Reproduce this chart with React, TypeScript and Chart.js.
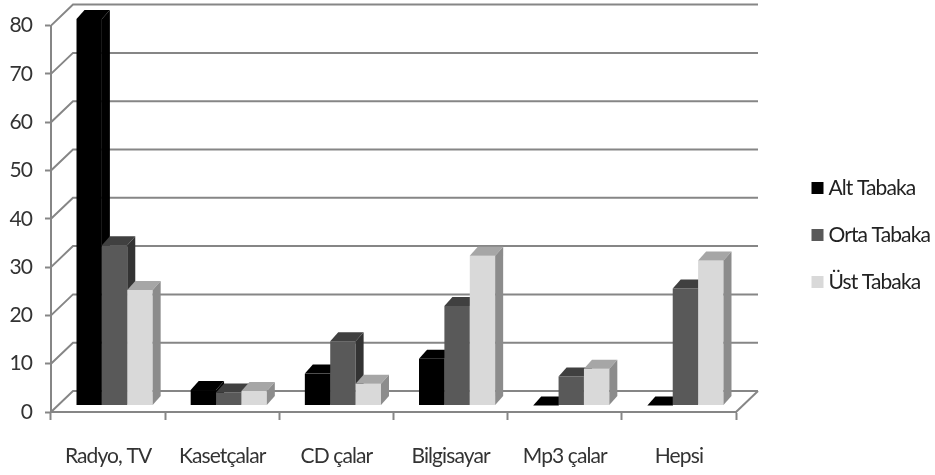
import React, { useEffect, useRef } from "react";
import { Chart, registerables } from "chart.js";

Chart.register(...registerables);

const categories = ["Radyo, TV", "Kasetçalar", "CD çalar", "Bilgisayar", "Mp3 çalar", "Hepsi"];
const altTabaka = [80, 3.2, 6.6, 9.7, 0, 0];
const ortaTabaka = [33.2, 2.7, 13.3, 20.6, 6, 24.2];
const ustTabaka = [23.9, 3, 4.5, 31, 7.6, 30];
const seriesNames = ["Alt Tabaka", "Orta Tabaka", "Üst Tabaka"];
const frontColors = ["#000000", "#595959", "#d9d9d9"];
const topColors = ["#000000", "#404040", "#a6a6a6"];
const sideColors = ["#000000", "#333333", "#8c8c8c"];

const FONT = "Lato, 'Liberation Sans', sans-serif";
const FONT_SIZE = 21;
const GRID = "#868686";
const WALL_DX = 22;
const WALL_DY = 21;
const BAR_DX = 6.5;
const BAR_DY = 6.5;
const DEPTH_DX = 8;
const DEPTH_DY = 9;

const poly = (ctx: CanvasRenderingContext2D, pts: number[][], fill: string) => {
  ctx.beginPath();
  pts.forEach(([x, y], i) => (i ? ctx.lineTo(x, y) : ctx.moveTo(x, y)));
  ctx.closePath();
  ctx.fillStyle = fill;
  ctx.fill();
};

const threeD = {
  id: "threeD",
  beforeLayout(chart: any) {
    (chart.ctx as any).letterSpacing = "-0.9px";
    const legend = chart.legend;
    if (legend && !legend.__patched) {
      const fit = legend.fit;
      legend.fit = function () {
        fit.call(this);
        this.width = 199;
      };
      legend.__patched = true;
    }
  },
  afterLayout(chart: any) {
    const legend = chart.legend;
    const p = legend.options.labels.padding;
    legend.left = 817 - p;
    legend.top = 151.5;
    legend.bottom = 475;
    legend.right = 935;
  },
  beforeDatasetsDraw(chart: any) {
    const { ctx, chartArea, scales } = chart;
    ctx.save();
    ctx.strokeStyle = GRID;
    ctx.lineWidth = 2;
    scales.y.ticks.forEach((t: any) => {
      const y = scales.y.getPixelForValue(t.value);
      ctx.beginPath();
      ctx.moveTo(chartArea.left, y);
      ctx.lineTo(chartArea.left + WALL_DX, y - WALL_DY);
      ctx.lineTo(chartArea.right + WALL_DX, y - WALL_DY);
      ctx.stroke();
    });
    const b = chartArea.bottom;
    ctx.beginPath();
    ctx.moveTo(chartArea.right, b);
    ctx.lineTo(chartArea.right + WALL_DX, b - WALL_DY);
    ctx.stroke();
    ctx.restore();

    // Paint the series left to right, so that each bar hides the side of its left neighbour.
    chart.data.datasets.forEach((_: any, i: number) => {
      const meta = chart.getDatasetMeta(i);
      ctx.save();
      ctx.translate(BAR_DX, -BAR_DY);
      meta.controller.draw();
      meta.data.forEach((bar: any) => {
        const { x, y, base, width } = bar.getProps(["x", "y", "base", "width"], true);
        const l = x - width / 2;
        const r = x + width / 2;
        poly(ctx, [[l, y], [l + DEPTH_DX, y - DEPTH_DY], [r + DEPTH_DX, y - DEPTH_DY], [r, y]], topColors[i]);
        if (base > y) {
          poly(ctx, [[r, y], [r + DEPTH_DX, y - DEPTH_DY], [r + DEPTH_DX, base - DEPTH_DY], [r, base]], sideColors[i]);
        }
      });
      ctx.restore();
    });
    return false;
  },
};

export default function App() {
  const ref = useRef<HTMLCanvasElement>(null);
  useEffect(() => {
    const values = [altTabaka, ortaTabaka, ustTabaka];
    const chart = new Chart(ref.current!, {
      type: "bar",
      data: {
        labels: categories,
        datasets: values.map((data, i) => ({
          label: seriesNames[i],
          data,
          backgroundColor: frontColors[i],
          borderWidth: 0,
          categoryPercentage: 0.667,
          barPercentage: 1,
        })),
      },
      options: {
        responsive: false,
        animation: false,
        layout: { padding: { top: 25, left: 0, right: 0, bottom: 0 } },
        plugins: {
          tooltip: { enabled: false },
          legend: {
            position: "right",
            align: "start",
            labels: {
              padding: 26,
              boxWidth: 1,
              boxHeight: 1,
              color: "#222222",
              font: { family: FONT, size: FONT_SIZE },
              generateLabels: () =>
                seriesNames.map((text, i) => ({
                  text,
                  fillStyle: frontColors[i],
                  strokeStyle: frontColors[i],
                  lineWidth: 11,
                  datasetIndex: i,
                  fontColor: "#222222",
                })),
            },
          },
        },
        scales: {
          x: {
            afterFit: (s: any) => {
              s.height = 63;
            },
            grid: { drawOnChartArea: false, drawTicks: true, tickLength: 8, tickColor: GRID, tickWidth: 2 },
            border: { display: true, color: GRID, width: 2 },
            ticks: {
              color: "#333333",
              padding: 24,
              maxRotation: 0,
              autoSkip: false,
              font: { family: FONT, size: FONT_SIZE },
            },
          },
          y: {
            min: 0,
            max: 80,
            afterFit: (s: any) => {
              s.width = 51;
            },
            grid: { drawOnChartArea: false, drawTicks: true, tickLength: 6, tickColor: GRID, tickWidth: 2 },
            border: { display: true, color: GRID, width: 2 },
            ticks: {
              stepSize: 10,
              color: "#333333",
              padding: 13,
              font: { family: FONT, size: FONT_SIZE },
            },
          },
        },
      },
      plugins: [threeD],
    } as any);
    return () => chart.destroy();
  }, []);
  return (
    <canvas
      ref={ref}
      width={935}
      height={475}
      style={{ position: "fixed", left: 0, top: 0, width: 935, height: 475, display: "block" }}
    />
  );
}
